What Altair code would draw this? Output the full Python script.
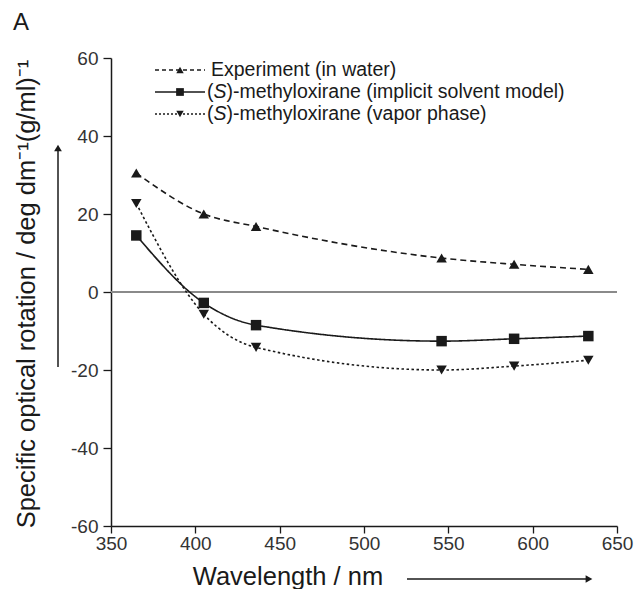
import altair as alt
import pandas as pd

wavelengths = [365, 405, 436, 546, 589, 633]
experiment = [30.5, 20.0, 16.8, 8.7, 7.1, 5.8]
implicit_model = [14.5, -2.8, -8.5, -12.6, -12.0, -11.3]
vapor_phase = [22.7, -5.7, -14.2, -20.0, -19.0, -17.5]

x_ticks = [350, 400, 450, 500, 550, 600, 650]
y_ticks = [-60, -40, -20, 0, 20, 40, 60]

FONT = "Liberation Sans"
INK = "#1a1a1a"

W, H = 506, 468

series = [
    ("exp", experiment, "triangle-up", [6, 4], 1.6),
    ("imp", implicit_model, "square", [1, 0], 1.6),
    ("vap", vapor_phase, "triangle-down", [2.5, 2.5], 1.6),
]

xs = alt.Scale(domain=[350, 650], nice=False)
ys = alt.Scale(domain=[-60, 60], nice=False)

one = pd.DataFrame({"d": [0]})

layers = []

# zero line
zero = alt.Chart(pd.DataFrame({"x": [350], "x2": [650], "y": [0]})).mark_rule(
    color="#8a8a8a", strokeWidth=2
).encode(
    x=alt.X("x:Q", scale=xs,
            axis=alt.Axis(values=x_ticks, title=None, grid=False, labelFont=FONT,
                          labelFontSize=19, labelColor="#333", tickSize=7,
                          labelPadding=1, domainColor=INK, tickColor=INK,
                          domainWidth=1.5, tickWidth=1.3, labelFlush=False)),
    x2="x2:Q",
    y=alt.Y("y:Q", scale=ys,
            axis=alt.Axis(values=y_ticks, title=None, grid=False, labelFont=FONT,
                          labelFontSize=19, labelColor="#333", tickSize=8,
                          labelPadding=5, domainColor=INK, tickColor=INK,
                          domainWidth=1.5, tickWidth=1.3,
                          labelExpr="datum.value < 0 ? '-' + abs(datum.value) : '' + datum.value")),
)
layers.append(zero)

for key, vals, shape, dash, sw in series:
    df = pd.DataFrame({"wl": wavelengths, "v": vals})
    line = alt.Chart(df).mark_line(
        color=INK, strokeWidth=sw, strokeDash=dash, interpolate="monotone"
    ).encode(x=alt.X("wl:Q", scale=xs), y=alt.Y("v:Q", scale=ys))
    pts = alt.Chart(df).mark_point(
        shape=shape, filled=True, color=INK, opacity=1,
        size=110
    ).encode(x=alt.X("wl:Q", scale=xs), y=alt.Y("v:Q", scale=ys))
    layers += [line, pts]

# legend (manual)
FS = 19.5
legend_rows = [
    (12, "triangle-up", [4, 3], None, "Experiment (in water)"),
    (34, "square", [1, 0], "(", ")-methyloxirane (implicit solvent model)"),
    (56, "triangle-down", [2, 2], "(", ")-methyloxirane (vapor phase)"),
]
for y, shape, dash, pre, txt in legend_rows:
    layers.append(alt.Chart(one).mark_rule(color=INK, strokeWidth=1.5, strokeDash=dash).encode(
        x=alt.value(44), x2=alt.value(94), y=alt.value(y)))
    layers.append(alt.Chart(one).mark_point(shape=shape, filled=True, color=INK, opacity=1,
                                            size=60 if shape == "square" else 55).encode(
        x=alt.value(69), y=alt.value(y)))
    if pre is None:
        layers.append(alt.Chart(one).mark_text(text=txt, align="left", baseline="middle",
                                               font=FONT, fontSize=FS, color=INK).encode(
            x=alt.value(100), y=alt.value(y)))
    else:
        layers.append(alt.Chart(one).mark_text(text="(", align="left", baseline="middle",
                                               font=FONT, fontSize=FS, color=INK).encode(
            x=alt.value(96), y=alt.value(y)))
        layers.append(alt.Chart(one).mark_text(text="S", align="left", baseline="middle",
                                               font=FONT, fontSize=FS, fontStyle="italic",
                                               color=INK).encode(
            x=alt.value(96 + 0.333 * FS), y=alt.value(y)))
        layers.append(alt.Chart(one).mark_text(text=txt, align="left", baseline="middle",
                                               font=FONT, fontSize=FS, color=INK).encode(
            x=alt.value(96 + 1.0 * FS), y=alt.value(y)))

# panel letter
layers.append(alt.Chart(one).mark_text(text="A", align="left", baseline="middle",
                                       font=FONT, fontSize=24, color=INK).encode(
    x=alt.value(-98), y=alt.value(-35)))

# y title
layers.append(alt.Chart(one).mark_text(
    text="Specific optical rotation / deg dm\u207b\u00b9(g/ml)\u207b\u00b9",
    align="center", baseline="middle", angle=270, font=FONT, fontSize=25.5, color=INK).encode(
    x=alt.value(-84), y=alt.value(236)))

# y arrow
layers.append(alt.Chart(one).mark_rule(color=INK, strokeWidth=1.5).encode(
    x=alt.value(-53), y=alt.value(309), y2=alt.value(92)))
layers.append(alt.Chart(one).mark_point(shape="triangle-up", filled=True, color=INK,
                                        opacity=1, size=60).encode(
    x=alt.value(-53), y=alt.value(90)))

# x title
layers.append(alt.Chart(one).mark_text(
    text="Wavelength / nm", align="center", baseline="middle", font=FONT, fontSize=25.5,
    color=INK).encode(x=alt.value(177), y=alt.value(519)))

# x arrow
layers.append(alt.Chart(one).mark_rule(color=INK, strokeWidth=1.5).encode(
    x=alt.value(296), x2=alt.value(476), y=alt.value(521)))
layers.append(alt.Chart(one).mark_point(shape="triangle-right", filled=True, color=INK,
                                        opacity=1, size=60).encode(
    x=alt.value(478), y=alt.value(521)))

chart = alt.layer(*layers).properties(
    width=W, height=H,
    autosize=alt.AutoSizeParams(type="none"),
    padding={"left": 111, "top": 58, "right": 20, "bottom": 63},
    background="white",
).configure_view(stroke=None)

chart.save("out.html", embed_options={"renderer": "svg", "actions": False})
